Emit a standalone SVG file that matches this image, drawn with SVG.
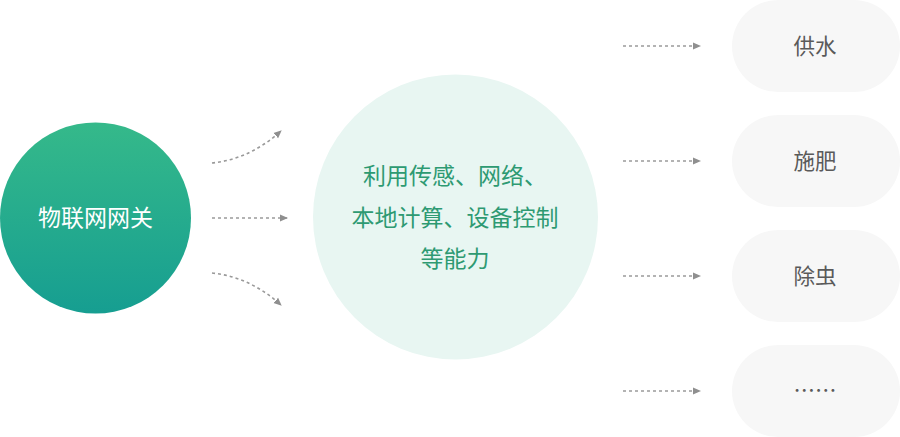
<svg xmlns="http://www.w3.org/2000/svg" width="900" height="437" viewBox="0 0 900 437">
<defs>
<linearGradient id="g1" x1="0" y1="0" x2="0" y2="1">
<stop offset="0" stop-color="#35b98a"/>
<stop offset="1" stop-color="#169e91"/>
</linearGradient>
<marker id="ah" markerWidth="8" markerHeight="8" refX="7" refY="4" orient="auto" markerUnits="userSpaceOnUse">
<path d="M0,0.5 L8,4 L0,7.5 Z" fill="#8f8f8f"/>
</marker>
<style>
.cn{font-family:"Noto Sans CJK SC","Noto Sans",sans-serif;}
.conn{fill:none;stroke:#9a9a9a;stroke-width:1.6;stroke-dasharray:3 3;marker-end:url(#ah);}
.pill{fill:#f7f7f7;}
.pt{font-size:21.5px;fill:#5a5a5a;text-anchor:middle;}
.mt{font-size:23px;fill:#2e9a72;text-anchor:middle;}
</style>
</defs>
<rect width="900" height="437" fill="#ffffff"/>
<g id="gateway">
<circle cx="95.5" cy="218" r="95.5" fill="url(#g1)"/>
<text class="cn" x="95.5" y="226" font-size="23" fill="#ffffff" text-anchor="middle">物联网网关</text>
</g>
<g id="capability">
<circle cx="455.5" cy="217" r="142.5" fill="#e8f6f2"/>
<text class="cn mt" x="455" y="184">利用传感、网络、</text>
<text class="cn mt" x="455" y="226">本地计算、设备控制</text>
<text class="cn mt" x="455" y="267">等能力</text>
</g>
<g id="water">
<rect class="pill" x="732" y="0" width="168" height="92" rx="46"/>
<text class="cn pt" x="815" y="54">供水</text>
</g>
<g id="fertilize">
<rect class="pill" x="732" y="115" width="168" height="92" rx="46"/>
<text class="cn pt" x="815" y="169">施肥</text>
</g>
<g id="pest">
<rect class="pill" x="732" y="230" width="168" height="92" rx="46"/>
<text class="cn pt" x="815" y="284">除虫</text>
</g>
<g id="more">
<rect class="pill" x="732" y="345" width="168" height="92" rx="46"/>
<text class="cn pt" x="815" y="398">……</text>
</g>
<g id="connectors">
<path class="conn" d="M212,163 C240,160 262,148 281,131"/>
<path class="conn" d="M212,218 L287,218"/>
<path class="conn" d="M212,273 C240,276 262,288 281,305"/>
<path class="conn" d="M623,46 L700,46"/>
<path class="conn" d="M623,161 L700,161"/>
<path class="conn" d="M623,276 L700,276"/>
<path class="conn" d="M623,391 L700,391"/>
</g>
</svg>
